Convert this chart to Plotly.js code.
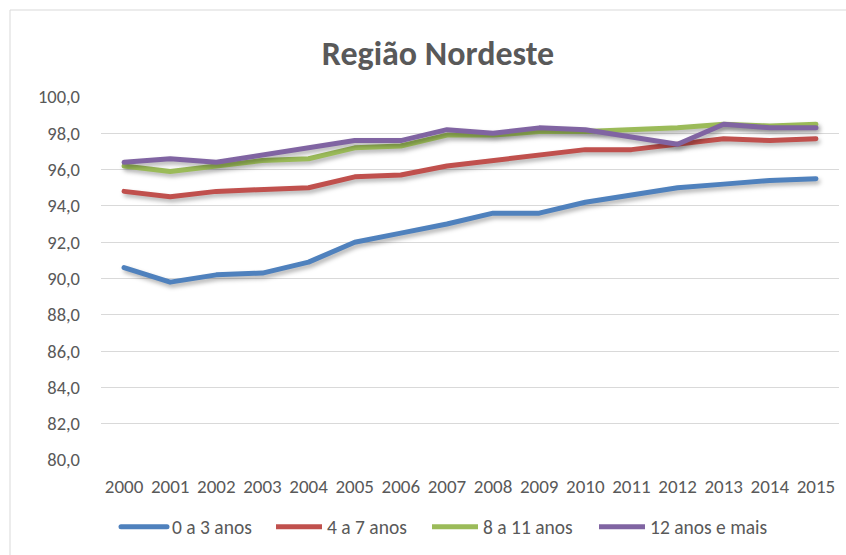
<!DOCTYPE html>
<html>
<head>
<meta charset="utf-8">
<script src="https://cdn.plot.ly/plotly-3.0.1.min.js"></script>
<style>
  html, body { margin: 0; padding: 0; background: #ffffff; }
  #chart { width: 846px; height: 555px; }
  #chart .scatterlayer path.js-line {
    stroke-linecap: round;
    stroke-linejoin: round;
    filter: drop-shadow(2px 3px 2px rgba(0,0,0,0.30));
  }
  #chart .legend path.js-line { stroke-linecap: round; }
</style>
</head>
<body>
<div id="chart"></div>
<script>
const years = ["2000","2001","2002","2003","2004","2005","2006","2007","2008","2009","2010","2011","2012","2013","2014","2015"];
const seriesNames = ["0 a 3 anos", "4 a 7 anos", "8 a 11 anos", "12 anos e mais"];
const age0to3   = [90.6, 89.8, 90.2, 90.3, 90.9, 92.0, 92.5, 93.0, 93.6, 93.6, 94.2, 94.6, 95.0, 95.2, 95.4, 95.5];
const age4to7   = [94.8, 94.5, 94.8, 94.9, 95.0, 95.6, 95.7, 96.2, 96.5, 96.8, 97.1, 97.1, 97.4, 97.7, 97.6, 97.7];
const age8to11  = [96.2, 95.9, 96.2, 96.5, 96.6, 97.2, 97.3, 97.9, 97.9, 98.1, 98.1, 98.2, 98.3, 98.5, 98.4, 98.5];
const age12plus = [96.4, 96.6, 96.4, 96.8, 97.2, 97.6, 97.6, 98.2, 98.0, 98.3, 98.2, 97.8, 97.4, 98.5, 98.3, 98.3];
const yTicks = [80, 82, 84, 86, 88, 90, 92, 94, 96, 98, 100];

const colors = ["#4F81BD", "#C0504D", "#9BBB59", "#8064A2"];
const allSeries = [age0to3, age4to7, age8to11, age12plus];

const FONT = "Carlito, 'Liberation Sans Narrow', 'Liberation Sans', sans-serif";
const legendIds = ["legend", "legend2", "legend3", "legend4"];
const legendLeftPx = [119, 274, 430, 597];

const traces = allSeries.map((vals, i) => ({
  type: "scatter",
  mode: "lines",
  x: years,
  y: vals,
  name: seriesNames[i],
  legend: legendIds[i],
  line: { color: colors[i], width: 5 },
  hoverinfo: "x+y+name"
}));

const W = 846, H = 555;
const L = 101, R = 7, T = 97, B = 95;
const pw = W - L - R, ph = H - T - B;
function px2x(p) { return (p - L) / pw; }
function py2y(p) { return 1 - (p - T) / ph; }

const layout = {
  width: W,
  height: H,
  margin: { l: L, r: R, t: T, b: B, pad: 0 },
  paper_bgcolor: "#ffffff",
  plot_bgcolor: "#ffffff",
  separators: ",.",
  font: { family: FONT, color: "#595959", size: 18 },
  title: {
    text: "<b>Região Nordeste</b>",
    font: { family: FONT, size: 34, color: "#595959" },
    xref: "container", yref: "container",
    x: 438 / W, y: 1 - 53 / H,
    xanchor: "center", yanchor: "middle"
  },
  xaxis: {
    type: "category",
    range: [-0.5, 15.5],
    showgrid: false,
    zeroline: false,
    showline: false,
    ticks: "",
    tickfont: { family: FONT, size: 19, color: "#595959" },
    ticklabelstandoff: 13,
    fixedrange: true
  },
  yaxis: {
    range: [80, 100],
    tickvals: yTicks,
    tickformat: ".1f",
    showgrid: true,
    gridcolor: "#d9d9d9",
    gridwidth: 1,
    zeroline: false,
    showline: false,
    ticks: "",
    tickfont: { family: FONT, size: 18.5, color: "#595959" },
    ticklabelstandoff: 20,
    fixedrange: true
  },
  showlegend: true,
  shapes: [{
    type: "rect",
    xref: "paper", yref: "paper",
    x0: px2x(10), x1: px2x(900),
    y0: py2y(600), y1: py2y(10),
    line: { color: "#d9d9d9", width: 1 },
    fillcolor: "rgba(0,0,0,0)",
    layer: "below"
  }]
};

legendIds.forEach((id, i) => {
  layout[id] = {
    orientation: "h",
    xref: "container", yref: "container",
    x: (legendLeftPx[i] - 3) / W, y: 1 - 527 / H,
    xanchor: "left", yanchor: "middle",
    font: { family: FONT, size: 19.5, color: "#595959" },
    itemwidth: 46,
    bgcolor: "rgba(0,0,0,0)"
  };
});

Plotly.newPlot("chart", traces, layout, { displayModeBar: false, staticPlot: true });
</script>
</body>
</html>
